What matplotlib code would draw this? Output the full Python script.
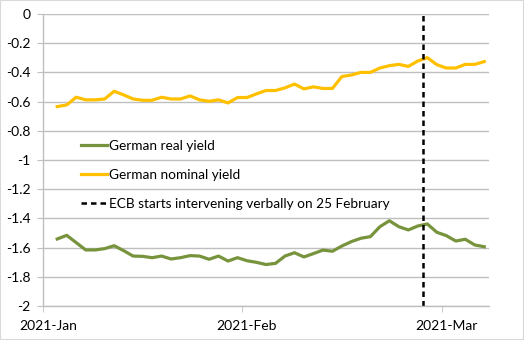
import numpy as np
import matplotlib
matplotlib.use('Agg')
import matplotlib.pyplot as plt
from matplotlib.patches import Rectangle

# Daily observations (business days), category 0 = first trading slot of January
nominal_yield = [-0.634, -0.623, -0.570, -0.588, -0.588, -0.582, -0.529, -0.554, -0.582, -0.591,
                 -0.591, -0.570, -0.582, -0.582, -0.561, -0.588, -0.598, -0.588, -0.609, -0.572,
                 -0.572, -0.547, -0.524, -0.524, -0.506, -0.480, -0.513, -0.499, -0.510, -0.510,
                 -0.428, -0.418, -0.400, -0.400, -0.370, -0.354, -0.345, -0.359, -0.322, -0.299,
                 -0.347, -0.370, -0.370, -0.345, -0.345, -0.326]
real_yield = [-1.541, -1.516, -1.566, -1.616, -1.616, -1.607, -1.587, -1.621, -1.658, -1.660,
              -1.669, -1.658, -1.678, -1.669, -1.655, -1.658, -1.680, -1.658, -1.692, -1.669,
              -1.690, -1.701, -1.716, -1.708, -1.658, -1.635, -1.664, -1.641, -1.617, -1.625,
              -1.589, -1.559, -1.536, -1.525, -1.457, -1.416, -1.457, -1.479, -1.452, -1.438,
              -1.495, -1.518, -1.555, -1.543, -1.582, -1.594]
n_categories = 47
first_obs = 1
month_labels = ["2021-Jan", "2021-Feb", "2021-Mar"]
month_starts = [0, 21, 42]
ecb_day = 39.5   # 25 February

fig = plt.figure(figsize=(5.24, 3.40), dpi=100)
ax = fig.add_axes([43/524, 1 - 306/340, 446/524, 292/340])
fig.patches.append(Rectangle((0, 0), 1, 1, transform=fig.transFigure, fill=False,
                             edgecolor='#d9d9d9', linewidth=1.5))

font = ['Lato', 'DejaVu Sans']
x = np.arange(first_obs, first_obs + len(real_yield))

ax.plot(x, real_yield, color='#77933C', lw=2.3, label='German real yield', solid_joinstyle='round')
ax.plot(x, nominal_yield, color='#FFC000', lw=2.3, label='German nominal yield', solid_joinstyle='round')
ax.axvline(ecb_day, color='black', lw=1.8, ls=(0, (2.2, 1.6)),
           label='ECB starts intervening verbally on 25 February')

ax.set_xlim(-0.5, n_categories - 0.5)
ax.set_ylim(-2, 0)

yt = np.round(np.arange(-2, 0.01, 0.2), 1)
ax.set_yticks(yt)
ax.set_yticklabels([f"{v:g}" if v != 0 else "0" for v in yt], fontfamily=font, fontsize=10)
ax.yaxis.grid(True, color='#bfbfbf', lw=1)
ax.set_axisbelow(True)

ax.set_xticks(month_starts)
ax.set_xticklabels(month_labels, fontfamily=font, fontsize=10)
ax.tick_params(axis='x', which='major', length=0, pad=10)
ax.set_xticks([m - 0.5 for m in month_starts], minor=True)
ax.tick_params(axis='x', which='minor', length=4, color='#bfbfbf', direction='out')
ax.tick_params(axis='y', length=4, color='#bfbfbf', pad=5)

for s in ['top', 'right']:
    ax.spines[s].set_visible(False)
for s in ['left', 'bottom']:
    ax.spines[s].set_color('#bfbfbf')
    ax.spines[s].set_linewidth(1)

ax.legend(loc='upper left', bbox_to_anchor=(0.085, 0.57), frameon=False,
          prop={'family': font, 'size': 9.8}, handlelength=1.95, handletextpad=0.1,
          labelspacing=1.25, borderpad=0, borderaxespad=0)

fig.savefig('out.png', dpi=100)
